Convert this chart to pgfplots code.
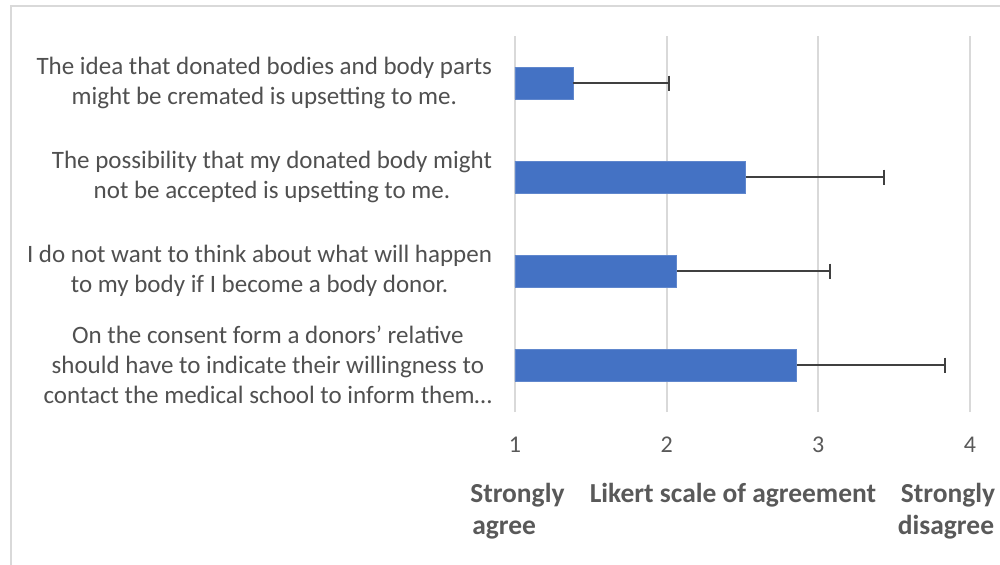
\documentclass[border=0pt]{standalone}
\usepackage{fontspec}
\setmainfont{Carlito}
\usepackage{pgfplots}
\pgfplotsset{compat=1.18}
\newlength\px \setlength\px{0.75bp}
\definecolor{barblue}{HTML}{4472C4}
\definecolor{gridgray}{HTML}{D9D9D9}
\definecolor{txtgray}{HTML}{595959}
\definecolor{lblgray}{HTML}{505050}
\definecolor{errgray}{HTML}{404040}
\begin{document}
\begin{tikzpicture}
\useasboundingbox (0,0) rectangle (1000\px,-565\px);
\fill[white] (0,0) rectangle (1000\px,-565\px);
\draw[color=gridgray, line width=2.5\px] (11\px,-600\px) -- (11\px,-6\px) -- (1100\px,-6\px);
\begin{axis}[
  at={(515\px,-412\px)}, anchor=south west,
  scale only axis, width=455\px, height=376\px,
  xmin=1, xmax=4, ymin=0.5, ymax=4.5,
  xbar, bar width=32\px,
  axis line style={draw=none},
  xmajorgrids, major grid style={color=gridgray, line width=1.8\px},
  tick style={draw=none},
  xtick={1,2,3,4}, ytick={1,2,3,4},
  /pgf/number format/assume math mode=true,
  xticklabel style={anchor=base, yshift=-40\px, font=\fontsize{18bp}{21bp}\selectfont, text=txtgray},
  yticklabels={{On the consent form a donors’ relative\\should have to indicate their willingness to\\contact the medical school to inform them\dots},
               {I do not want to think about what will happen\\to my body if I become a body donor.},
               {The possibility that my donated body might\\not be accepted is upsetting to me.},
               {The idea that donated bodies and body parts\\might be cremated is upsetting to me.}},
  yticklabel style={align=center, anchor=east, inner sep=0pt, xshift=-17\px,
     font=\fontsize{18.75bp}{22.3bp}\selectfont, text=lblgray},
]
\addplot[xbar, fill=barblue, draw=barblue!85!white, line width=0.6\px,
  error bars/.cd, x dir=plus, x explicit,
  error bar style={color=errgray, line width=2\px},
  error mark options={color=errgray, line width=2\px, mark size=7.5\px, rotate=90}]
coordinates {
  (2.857,1) +- (0.980,0)
  (2.066,2) +- (1.011,0)
  (2.521,3) +- (0.913,0)
  (1.384,4) +- (0.633,0)
};
\end{axis}
\begin{scope}[every node/.style={inner sep=0pt, font=\fontsize{20.6bp}{24bp}\selectfont\bfseries, text=txtgray}]
\node[anchor=base west] at (470\px,-502\px) {Strongly};
\node[anchor=base west] at (472\px,-534\px) {agree};
\node[anchor=base] at (733\px,-502\px) {Likert scale of agreement};
\node[anchor=base] at (948\px,-502\px) {Strongly};
\node[anchor=base] at (946\px,-534\px) {disagree};
\end{scope}
\end{tikzpicture}
\end{document}
